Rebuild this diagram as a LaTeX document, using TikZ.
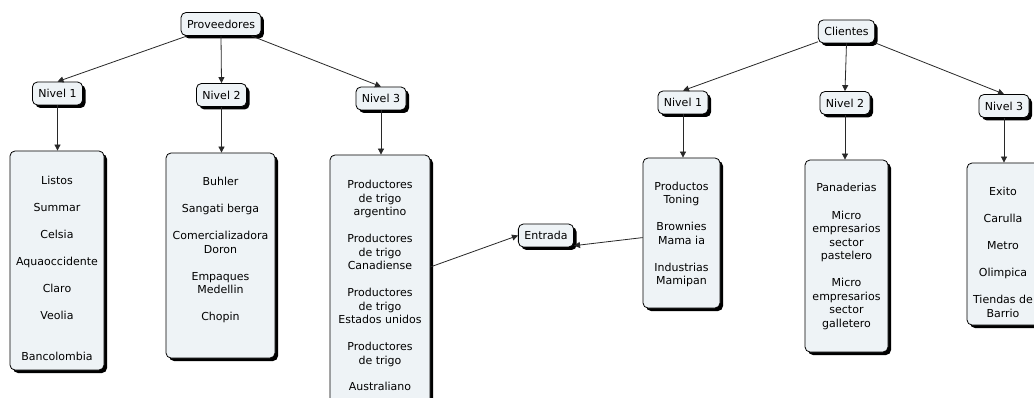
\documentclass[tikz,border=0pt]{standalone}
\usepackage{fontspec}
\setmainfont{DejaVu Sans}
\usetikzlibrary{arrows.meta,shadows}
\definecolor{boxfill}{RGB}{238,243,246}
\definecolor{linec}{RGB}{40,40,40}
\tikzset{
  shadowed/.style={draw=black,line width=0.8pt,fill=boxfill,rounded corners=5pt,
    drop shadow={shadow xshift=3pt,shadow yshift=-3pt,opacity=1,fill=black}},
  tag/.style={shadowed,inner xsep=6pt,inner ysep=6pt,minimum height=23pt,
    font=\fontsize{11}{13.5}\selectfont},
  listbox/.style={shadowed,inner sep=0pt,font=\fontsize{11}{13.5}\selectfont},
  arr/.style={draw=linec,line width=0.8pt,-{Triangle[length=6pt,width=6pt]}}
}
\newcommand{\boxtext}[4]{\parbox[c][#2][t]{#1}{\centering\vspace*{#3}#4}}
\begin{document}
\begin{tikzpicture}[x=1pt,y=-1pt]
\fill[white] (0,0) rectangle (1034,398);
\useasboundingbox (0,0) rectangle (1034,398);

% Proveedores side
\node[tag] (prov) at (221,24) {Proveedores};
\node[tag] (n1) at (57.5,93.5) {Nivel 1};
\node[tag] (n2) at (221.5,95) {Nivel 2};
\node[tag] (n3) at (381,98.5) {Nivel 3};

\node[listbox] (b1) at (57,260.5) {\boxtext{94pt}{219pt}{25.6pt}{Listos\\[13.5pt]Summar\\[13.5pt]Celsia\\[13.5pt]Aquaoccidente\\[13.5pt]Claro\\[13.5pt]Veolia\\[27.5pt]Bancolombia}};
\node[listbox] (b2) at (220.5,255.5) {\boxtext{109pt}{205pt}{24.6pt}{Buhler\\[13.5pt]Sangati berga\\[13.5pt]Comercializadora\\Doron\\[13.5pt]Empaques\\Medellin\\[13.5pt]Chopin}};
\node[listbox] (b3) at (380,285) {\boxtext{100pt}{260pt}{25.6pt}{Productores\\de trigo\\argentino\\[13.5pt]Productores\\de trigo\\Canadiense\\[13.5pt]Productores\\de trigo\\Estados unidos\\[13.5pt]Productores\\de trigo\\[13pt]Australiano}};

\draw[arr] (prov) -- (n1.north);
\draw[arr] (prov.south) -- (n2.north);
\draw[arr] (prov) -- (n3.north);
\draw[arr] (n1.south) -- (n1.south |- b1.north);
\draw[arr] (n2.south) -- (n2.south |- b2.north);
\draw[arr] (n3.south) -- (n3.south |- b3.north);

% Entrada
\node[tag] (en) at (546,235.5) {Entrada};

% Clientes side
\node[tag] (cl) at (846.5,31.5) {Clientes};
\node[tag] (r1) at (683,102.5) {Nivel 1};
\node[tag] (r2) at (845,103) {Nivel 2};
\node[tag] (r3) at (1004,106) {Nivel 3};

\node[listbox] (rb1) at (681.5,233) {\boxtext{77pt}{150pt}{24.1pt}{Productos\\Toning\\[13.5pt]Brownies\\Mama ia\\[13.5pt]Industrias\\Mamipan}};
\node[listbox] (rb2) at (846.5,256) {\boxtext{83pt}{192pt}{23.6pt}{Panaderias\\[14pt]Micro\\empresarios\\sector\\pastelero\\[13.5pt]Micro\\empresarios\\sector\\galletero}};
\node[listbox] (rb3) at (1003,244) {\boxtext{72pt}{162pt}{24.3pt}{Exito\\[13.5pt]Carulla\\[13.5pt]Metro\\[13.5pt]Olimpica\\[13.5pt]Tiendas de\\Barrio}};

\draw[arr] (cl) -- (r1.north);
\draw[arr] (cl.south) -- (r2.north);
\draw[arr] (cl) -- (r3.north);
\draw[arr] (r1.south) -- (r1.south |- rb1.north);
\draw[arr] (r2.south) -- (r2.south |- rb2.north);
\draw[arr] (r3.south) -- (r3.south |- rb3.north);

\draw[arr] (b3) -- (en.west);
\draw[arr] (rb1) -- (en.-20);
\end{tikzpicture}
\end{document}
